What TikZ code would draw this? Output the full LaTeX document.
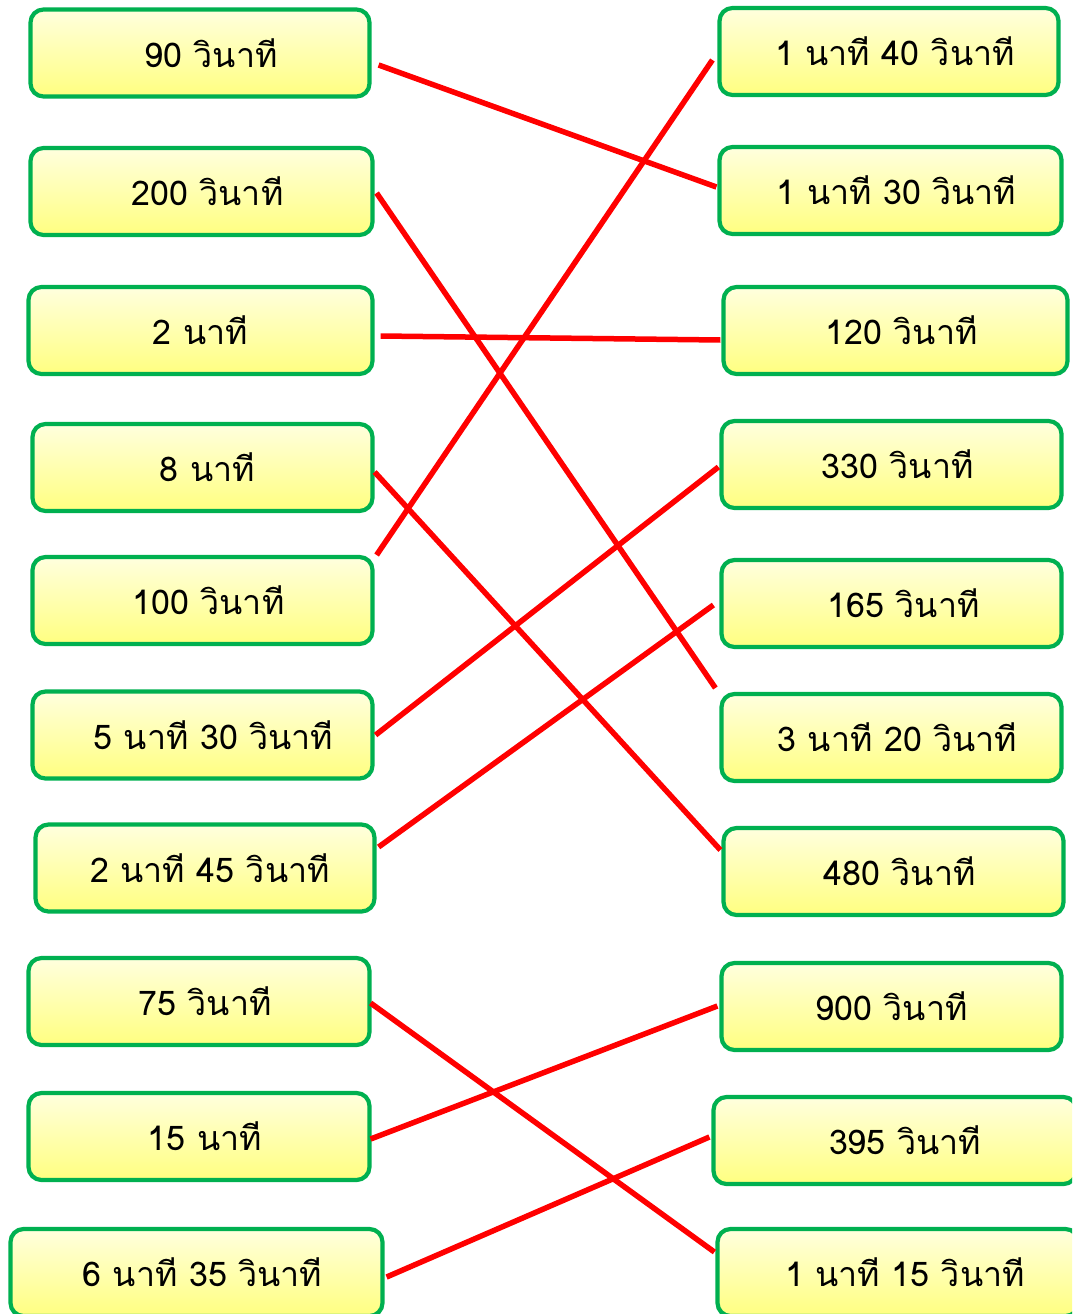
\documentclass[tikz,border=0pt]{standalone}
\usepackage{fontspec}
\newfontfamily\thaifont[Script=Thai]{Loma}
\definecolor{boxgreen}{RGB}{0,176,80}
\definecolor{boxtop}{RGB}{255,255,222}
\definecolor{boxbot}{RGB}{255,255,128}
\definecolor{linkred}{RGB}{255,0,0}
\newcommand{\Tx}[2]{\hspace*{#1pt}#2}
\begin{document}
\begin{tikzpicture}[x=1pt,y=-1pt,
  box/.style={draw=boxgreen, line width=4.2pt, rounded corners=13pt,
    top color=boxtop, bottom color=boxbot, minimum height=87pt,
    inner sep=0pt, font=\thaifont\fontsize{34}{40}\selectfont},
  link/.style={draw=linkred, line width=5.5pt}]
\useasboundingbox (0,0) rectangle (1072,1314);
\clip (0,0) rectangle (1072,1314);
% left column
\node[box, minimum width=339pt] (l1) at (200,53) {\Tx{22}{90 วินาที}};
\node[box, minimum width=342pt] (l2) at (201.5,191.5) {\Tx{12}{200 วินาที}};
\node[box, minimum width=344pt] (l3) at (200.5,330.5) {2 นาที};
\node[box, minimum width=340pt] (l4) at (202.5,467.5) {\Tx{10}{8 นาที}};
\node[box, minimum width=340pt] (l5) at (202.5,600.5) {\Tx{12}{100 วินาที}};
\node[box, minimum width=340pt] (l6) at (202.5,735) {\Tx{22}{5 นาที 30 วินาที}};
\node[box, minimum width=339pt] (l7) at (205,868) {\Tx{10}{2 นาที 45 วินาที}};
\node[box, minimum width=341pt] (l8) at (199,1001.5) {\Tx{12}{75 วินาที}};
\node[box, minimum width=341pt] (l9) at (199,1136.5) {\Tx{12}{15 นาที}};
\node[box, minimum width=372pt] (l10) at (196.5,1272.5) {\Tx{12}{6 นาที 35 วินาที}};
% right column
\node[box, minimum width=339pt] (r1) at (889,51.5) {\Tx{12}{1 นาที 40 วินาที}};
\node[box, minimum width=342pt] (r2) at (890.5,190.5) {\Tx{12}{1 นาที 30 วินาที}};
\node[box, minimum width=344pt] (r3) at (895.5,330.5) {\Tx{12}{120 วินาที}};
\node[box, minimum width=340pt] (r4) at (891.5,464.5) {\Tx{12}{330 วินาที}};
\node[box, minimum width=340pt] (r5) at (891.5,603.5) {\Tx{24}{165 วินาที}};
\node[box, minimum width=340pt] (r6) at (891.5,737.5) {\Tx{12}{3 นาที 20 วินาที}};
\node[box, minimum width=340pt] (r7) at (893.5,871.5) {\Tx{12}{480 วินาที}};
\node[box, minimum width=340pt] (r8) at (891.5,1006.5) {900 วินาที};
\node[box, minimum width=363pt] (r9) at (895,1140.5) {\Tx{20}{395 วินาที}};
\node[box, minimum width=361pt] (r10) at (898,1272.5) {\Tx{14}{1 นาที 15 วินาที}};
% connectors
\draw[link] ([shift={(7,12)}]l1.east) -- ([shift={(-1,-3.5)}]r2.west);
\draw[link] ([shift={(2,1.5)}]l2.east) -- ([shift={(-4,-49.5)}]r6.west);
\draw[link] ([shift={(6,5.5)}]l3.east) -- ([shift={(-1,9.5)}]r3.west);
\draw[link] ([shift={(0,4.5)}]l4.east) -- ([shift={(-1,-21.5)}]r7.west);
\draw[link] ([shift={(2,-45.5)}]l5.east) -- ([shift={(-5,8.5)}]r1.west);
\draw[link] ([shift={(1,0)}]l6.east) -- ([shift={(-1,2.5)}]r4.west);
\draw[link] ([shift={(2,-21)}]l7.east) -- ([shift={(-6,1.5)}]r5.west);
\draw[link] ([shift={(-1,1.5)}]l8.east) -- ([shift={(-1,-20.5)}]r10.west);
\draw[link] ([shift={(-1,2.5)}]l9.east) -- ([shift={(-2,-0.5)}]r8.west);
\draw[link] ([shift={(2,4.5)}]l10.east) -- ([shift={(-2,-3.5)}]r9.west);
\end{tikzpicture}
\end{document}
